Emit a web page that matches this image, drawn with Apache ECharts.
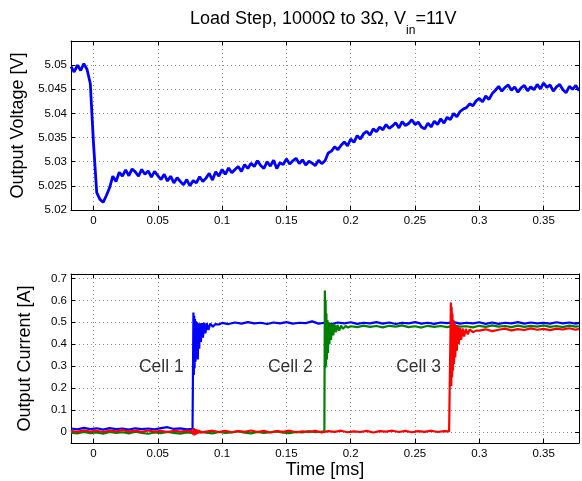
<!DOCTYPE html>
<html><head><meta charset="utf-8">
<script src="https://cdn.jsdelivr.net/npm/echarts@6/dist/echarts.min.js"></script>
<style>html,body{margin:0;padding:0;background:#fff}#c{width:582px;height:481px}</style>
</head><body><div id="c"></div>
<script>
// ---- Top panel: output voltage ----
const voltageTime = [-0.0175,-0.015,-0.0125,-0.01,-0.0075,-0.005,-0.0025,0,0.0025,0.005,0.0075,0.01,0.0125,0.015,0.0175,0.02,0.0225,0.025,0.0275,0.03,0.0325,0.035,0.0375,0.04,0.0425,0.045,0.0475,0.05,0.0525,0.055,0.0575,0.06,0.0625,0.065,0.0675,0.07,0.0725,0.075,0.0775,0.08,0.0825,0.085,0.0875,0.09,0.0925,0.095,0.0975,0.1,0.1025,0.105,0.1075,0.11,0.1125,0.115,0.1175,0.12,0.1225,0.125,0.1275,0.13,0.1325,0.135,0.1375,0.14,0.1425,0.145,0.1475,0.15,0.1525,0.155,0.1575,0.16,0.1625,0.165,0.1675,0.17,0.1725,0.175,0.1775,0.18,0.1825,0.185,0.1875,0.19,0.1925,0.195,0.1975,0.2,0.2025,0.205,0.2075,0.21,0.2125,0.215,0.2175,0.22,0.2225,0.225,0.2275,0.23,0.2325,0.235,0.2375,0.24,0.2425,0.245,0.2475,0.25,0.2525,0.255,0.2575,0.26,0.2625,0.265,0.2675,0.27,0.2725,0.275,0.2775,0.28,0.2825,0.285,0.2875,0.29,0.2925,0.295,0.2975,0.3,0.3025,0.305,0.3075,0.31,0.3125,0.315,0.3175,0.32,0.3225,0.325,0.3275,0.33,0.3325,0.335,0.3375,0.34,0.3425,0.345,0.3475,0.35,0.3525,0.355,0.3575,0.36,0.3625,0.365,0.3675,0.37,0.3725,0.375,0.3775];
const voltage = [
5.0497,5.0486,5.0500,5.0489,5.0503,5.0491,5.0462,5.0338,5.0236,5.0222,
5.0216,5.0230,5.0246,5.0270,5.0259,5.0278,5.0270,5.0283,5.0271,5.0285,
5.0279,5.0270,5.0284,5.0274,5.0281,5.0268,5.0280,5.0271,5.0263,5.0274,
5.0260,5.0270,5.0256,5.0267,5.0259,5.0252,5.0263,5.0250,5.0261,5.0256,
5.0269,5.0259,5.0266,5.0276,5.0262,5.0279,5.0270,5.0284,5.0274,5.0287,
5.0277,5.0284,5.0290,5.0280,5.0294,5.0286,5.0297,5.0290,5.0302,5.0292,
5.0286,5.0300,5.0291,5.0303,5.0286,5.0298,5.0294,5.0306,5.0295,5.0302,
5.0307,5.0296,5.0304,5.0293,5.0301,5.0297,5.0292,5.0303,5.0296,5.0302,
5.0318,5.0322,5.0331,5.0325,5.0334,5.0341,5.0333,5.0347,5.0340,5.0354,
5.0347,5.0358,5.0363,5.0355,5.0368,5.0362,5.0372,5.0366,5.0377,5.0369,
5.0374,5.0381,5.0370,5.0383,5.0375,5.0379,5.0387,5.0377,5.0382,5.0372,
5.0368,5.0380,5.0372,5.0384,5.0377,5.0389,5.0380,5.0392,5.0387,5.0400,
5.0393,5.0404,5.0409,5.0412,5.0420,5.0416,5.0426,5.0431,5.0424,5.0436,
5.0429,5.0441,5.0448,5.0456,5.0446,5.0454,5.0459,5.0448,5.0455,5.0444,
5.0453,5.0458,5.0447,5.0455,5.0449,5.0460,5.0451,5.0463,5.0454,5.0459,
5.0446,5.0455,5.0460,5.0449,5.0443,5.0456,5.0450,5.0458,5.0447];

// ---- Bottom panel: output currents ----
const cell1Time = [-0.0175,-0.0125,-0.0075,-0.0025,0.0025,0.0075,0.0125,0.0175,0.0225,0.0275,
0.0325,0.0375,0.0425,0.0475,0.0525,0.0575,0.0625,0.0675,0.0725,0.077,
0.0774,0.0777,0.078,0.0783,0.0786,0.0789,0.0793,0.0797,0.0801,0.0806,
0.0811,0.0816,0.0822,0.0828,0.0835,0.0843,0.0851,0.086,0.087,0.0881,
0.0893,0.0908,0.0928,0.0948,0.0975,
0.1,0.105,0.11,0.115,0.12,0.125,0.13,0.135,0.14,0.145,0.15,0.155,0.16,0.165,0.17,0.175,0.18,0.185,0.19,0.195,0.2,0.205,0.21,0.215,0.22,0.225,0.23,0.235,0.24,0.245,0.25,0.255,0.26,0.265,0.27,0.275,0.28,0.285,0.29,0.295,0.3,0.305,0.31,0.315,0.32,0.325,0.33,0.335,0.34,0.345,0.35,0.355,0.36,0.365,0.37,0.375,0.3775];
const cell1Current = [0.016,0.012,0.019,0.013,0.017,0.011,0.018,0.013,0.016,0.011,
0.017,0.013,0.016,0.012,0.018,0.022,0.014,0.017,0.012,0.015,
0.015,0.545,0.260,0.530,0.290,0.515,0.320,0.505,0.340,0.500,
0.330,0.495,0.380,0.495,0.410,0.497,0.430,0.498,0.450,0.496,
0.465,0.494,0.480,0.492,0.490,
0.497,0.492,0.499,0.494,0.501,0.495,0.498,0.492,0.499,0.495,
0.501,0.494,0.498,0.496,0.504,0.494,0.498,0.492,0.499,0.495,
0.500,0.493,0.498,0.495,0.501,0.494,0.499,0.492,0.498,0.495,
0.501,0.494,0.498,0.493,0.499,0.496,0.501,0.494,0.498,0.495,
0.500,0.493,0.499,0.493,0.498,0.495,0.501,0.494,0.499,0.495,
0.498,0.494,0.500,0.495,0.499,0.494,0.497];

const cell2Time = [-0.0175,-0.0125,-0.0075,-0.0025,0.0025,0.0075,0.0125,0.0175,0.0225,0.0275,
0.0325,0.0375,0.0425,0.0475,0.0525,0.0575,0.0625,0.0675,0.0725,0.0775,
0.0825,0.0875,0.0925,0.0975,0.1025,0.1075,0.1125,0.1175,0.1225,0.1275,
0.1325,0.1375,0.1425,0.1475,0.1525,0.1575,0.1625,0.1675,0.1725,0.1775,
0.1795,0.1799,0.1802,0.1805,0.1808,0.1811,0.1815,0.1819,0.1823,0.1828,
0.1834,0.184,0.1847,0.1855,0.1864,0.1874,0.1885,0.1897,0.191,0.1925,
0.194,0.196,0.198,
0.2,0.205,0.21,0.215,0.22,0.225,0.23,0.235,0.24,0.245,0.25,0.255,0.26,0.265,0.27,0.275,0.28,0.285,0.29,0.295,0.3,0.305,0.31,0.315,0.32,0.325,0.33,0.335,0.34,0.345,0.35,0.355,0.36,0.365,0.37,0.375,0.3775];
const cell2Current = [-0.003,-0.006,0.001,-0.005,-0.002,-0.007,0.000,-0.004,-0.001,-0.006,
0.002,-0.004,-0.008,-0.002,-0.005,0.001,-0.004,-0.007,-0.002,-0.005,
0.002,-0.003,-0.006,0.000,-0.004,-0.002,0.004,-0.003,-0.006,0.001,
-0.004,-0.001,0.003,-0.003,-0.005,0.001,-0.002,0.004,-0.001,0.002,
0.002,0.645,0.290,0.600,0.300,0.540,0.330,0.510,0.360,0.500,
0.400,0.495,0.420,0.493,0.440,0.490,0.455,0.488,0.462,0.485,
0.470,0.483,0.476,
0.482,0.478,0.485,0.479,0.483,0.477,0.484,0.480,0.486,0.478,
0.482,0.476,0.484,0.479,0.483,0.478,0.485,0.480,0.482,0.477,
0.484,0.479,0.486,0.480,0.483,0.478,0.485,0.479,0.484,0.480,
0.486,0.479,0.483,0.478,0.485,0.480,0.482];

const cell3Time = [-0.0175,-0.0125,-0.0075,-0.0025,0.0025,0.0075,0.0125,0.0175,0.0225,0.0275,
0.0325,0.0375,0.0425,0.0475,0.0525,0.0575,0.0625,0.0675,0.0725,
0.0765,0.0775,0.078,0.0785,0.079,0.0795,0.08,0.0805,0.081,0.0815,0.082,0.083,0.084,
0.0875,0.0925,0.0975,0.1025,0.1075,0.1125,0.1175,0.1225,0.1275,0.1325,
0.1375,0.1425,0.1475,0.1525,0.1575,0.1625,0.1675,0.1725,0.1775,0.1825,
0.1875,0.1925,0.1975,0.2025,0.2075,0.2125,0.2175,0.2225,0.2275,0.2325,
0.2375,0.2425,0.2475,0.2525,0.2575,0.2625,0.2675,0.2725,
0.2765,0.2776,0.2779,0.2782,0.2785,0.2788,0.2791,0.2795,0.2799,0.2803,
0.2808,0.2813,0.2819,0.2825,0.2832,0.284,0.2849,0.2859,0.287,0.2882,
0.2895,0.291,0.2925,0.295,0.2975,
0.3,0.305,0.31,0.315,0.32,0.325,0.33,0.335,0.34,0.345,0.35,0.355,0.36,0.365,0.37,0.375,0.3775];
const cell3Current = [0.005,0.001,0.008,0.002,0.006,0.000,0.007,0.003,0.009,0.002,
0.006,0.001,0.007,0.002,0.005,0.000,0.006,0.002,0.005,
0.004,-0.010,0.018,-0.015,0.014,-0.012,0.012,-0.008,0.010,-0.006,0.008,-0.003,0.006,
0.002,0.006,0.000,0.005,-0.001,0.004,0.001,0.007,0.000,0.005,
-0.002,0.004,0.001,0.006,-0.001,0.003,0.000,0.005,-0.002,0.004,
0.001,0.006,-0.001,0.003,0.000,0.005,-0.002,0.004,0.002,0.006,
0.000,0.005,-0.001,0.004,0.001,0.006,0.000,0.004,
0.003,0.005,0.590,0.210,0.570,0.250,0.540,0.280,0.510,0.310,
0.495,0.340,0.485,0.370,0.480,0.400,0.475,0.420,0.472,0.435,
0.470,0.445,0.468,0.455,0.462,
0.462,0.468,0.460,0.466,0.471,0.463,0.469,0.465,0.472,0.466,
0.470,0.464,0.471,0.467,0.473,0.466,0.470];

// ---- Annotations ----
const cellLabels = ['Cell 1', 'Cell 2', 'Cell 3'];
const cellLabelTime = [0.0527, 0.153, 0.2527];
const cellLabelCurrent = [0.295, 0.295, 0.295];

// ---- Axis ranges ----
const timeRange = [-0.0175, 0.3775];
const timeStep = 0.05;
const voltageRange = [5.02, 5.055];
const voltageStep = 0.005;
const currentRange = [-0.05, 0.72];
const currentStep = 0.1;

function pairs(t, v) { const n = Math.min(t.length, v.length); const o = []; for (let i = 0; i < n; i++) o.push([t[i], v[i]]); return o; }

const FONT = '"Liberation Sans", Arial, Helvetica, sans-serif';
const BLACK = '#000';
const gridLine = { show: true, lineStyle: { color: '#8a8a8a', type: [1, 3], width: 1 } };
const tick = { show: true, inside: true, length: 4, lineStyle: { color: BLACK, width: 1 } };
const axLine = { show: true, onZero: false, lineStyle: { color: BLACK, width: 1 } };
const lbl = (extra) => Object.assign({ color: BLACK, fontSize: 11.5, fontFamily: FONT }, extra);

function mainX(gi, name) {
  return { gridIndex: gi, type: 'value', position: 'bottom', min: timeRange[0], max: timeRange[1],
    minInterval: timeStep, maxInterval: timeStep, splitNumber: 8,
    axisLine: axLine, axisTick: tick, splitLine: gridLine,
    axisLabel: lbl({ margin: 5, showMinLabel: false, showMaxLabel: false }),
    name: name || '', nameLocation: 'middle', nameGap: 17,
    nameTextStyle: { color: BLACK, fontSize: 18, fontFamily: FONT } };
}
function mirrorX(gi) {
  return { gridIndex: gi, type: 'value', position: 'top', min: timeRange[0], max: timeRange[1],
    minInterval: timeStep, maxInterval: timeStep, splitNumber: 8,
    axisLine: axLine, axisTick: tick, splitLine: { show: false }, axisLabel: { show: false } };
}
function mainY(gi, range, step, name, showMin) {
  return { gridIndex: gi, type: 'value', position: 'left', min: range[0], max: range[1],
    minInterval: step, maxInterval: step, splitNumber: 7,
    axisLine: axLine, axisTick: tick, splitLine: gridLine,
    axisLabel: lbl({ margin: 4, showMinLabel: showMin, showMaxLabel: false }),
    name: name, nameLocation: 'middle', nameGap: 37,
    nameTextStyle: { color: BLACK, fontSize: 18, fontFamily: FONT } };
}
function mirrorY(gi, range, step) {
  return { gridIndex: gi, type: 'value', position: 'right', min: range[0], max: range[1],
    minInterval: step, maxInterval: step, splitNumber: 7,
    axisLine: axLine, axisTick: tick, splitLine: { show: false }, axisLabel: { show: false } };
}

const line = (name, xi, yi, data, color, w) => ({
  name, type: 'line', xAxisIndex: xi, yAxisIndex: yi, data, symbol: 'none', showSymbol: false,
  lineStyle: { color, width: w }, itemStyle: { color }, animation: false, clip: true, silent: true
});

const chart = echarts.init(document.getElementById('c'), null, { renderer: 'canvas' });
chart.setOption({
  animation: false,
  backgroundColor: '#fff',
  title: {
    left: 190, top: 9, padding: 0,
    text: '{n|Load Step, 1000Ω to 3Ω, V}{s|in}{n|=11V}',
    textStyle: {
      fontWeight: 'normal',
      rich: {
        n: { fontSize: 18, fontFamily: FONT, fontWeight: 'normal', color: BLACK, lineHeight: 20 },
        s: { fontSize: 12, fontFamily: FONT, fontWeight: 'normal', color: BLACK, lineHeight: 12, padding: [16, 0, 0, 0], verticalAlign: 'top' }
      }
    }
  },
  grid: [
    { left: 71, top: 41, width: 508, height: 169, containLabel: false },
    { left: 71, top: 274, width: 508, height: 169, containLabel: false }
  ],
  xAxis: [mainX(0), mainX(1, 'Time [ms]'), mirrorX(0), mirrorX(1)],
  yAxis: [
    mainY(0, voltageRange, voltageStep, 'Output Voltage [V]', true),
    mainY(1, currentRange, currentStep, 'Output Current [A]', false),
    mirrorY(0, voltageRange, voltageStep),
    mirrorY(1, currentRange, currentStep)
  ],
  series: [
    line('Voltage', 0, 0, pairs(voltageTime, voltage), '#0000ff', 2.8),
    line('Cell 1', 1, 1, pairs(cell1Time, cell1Current), '#0000ff', 2.2),
    line('Cell 2', 1, 1, pairs(cell2Time, cell2Current), '#008000', 2.2),
    line('Cell 3', 1, 1, pairs(cell3Time, cell3Current), '#ff0000', 2.2),
    {
      type: 'scatter', xAxisIndex: 1, yAxisIndex: 1, symbolSize: 0, silent: true, animation: false,
      data: cellLabels.map((n, i) => ({ name: n, value: [cellLabelTime[i], cellLabelCurrent[i]] })),
      label: { show: true, position: 'inside', formatter: p => p.name, color: BLACK, fontSize: 17.5, fontFamily: FONT },
      z: 10
    }
  ]
});
</script>
</body></html>
